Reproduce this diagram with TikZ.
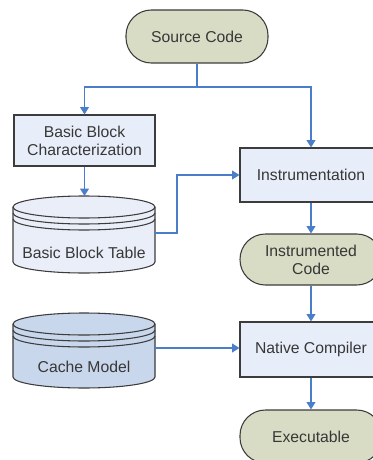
\documentclass[tikz,border=0pt]{standalone}
\usepackage{fontspec}
\setmainfont{Liberation Sans}
\usetikzlibrary{arrows.meta}
\definecolor{termfill}{RGB}{216,220,196}
\definecolor{boxfill}{RGB}{232,238,249}
\definecolor{cylA}{RGB}{233,238,248}
\definecolor{cylB}{RGB}{201,215,236}
\definecolor{edge}{RGB}{60,60,60}
\definecolor{flow}{RGB}{74,126,200}
\definecolor{txt}{RGB}{55,55,55}
\begin{document}
\begin{tikzpicture}[x=0.75pt,y=-0.75pt,
  every node/.style={font=\fontsize{11.8}{13.4}\selectfont, text=txt, align=center, inner sep=0pt},
  term/.style={draw=edge, line width=0.8pt, fill=termfill, rounded corners=19pt, minimum width=106.5pt},
  procbox/.style={draw=edge, line width=0.8pt, fill=boxfill, minimum width=106.5pt},
  cylnode/.style={minimum width=106.5pt, minimum height=57pt},
  arr/.style={draw=flow, line width=1.1pt, -{Triangle[length=5.5pt,width=6.5pt]}},
  rim/.style={draw=edge, line width=0.8pt}]
\fill[white] (0,0) rectangle (373,460);
\clip (0,0) rectangle (373,460);
\useasboundingbox (0,0) rectangle (373,460);

% terminals and boxes
\node[term, minimum height=39.75pt] (src) at (197,36.5) {Source Code};
\node[procbox, minimum width=105.75pt, minimum height=38.25pt] (bbc) at (84.5,140.5) {Basic Block\\Characterization};
\node[procbox, minimum height=40.5pt] (instr) at (311,175) {Instrumentation};
\node[term, minimum height=38.25pt] (icode) at (311,259.5) {Instrumented\\Code};
\node[procbox, minimum height=41.25pt] (nc) at (311,349.5) {Native Compiler};
\node[term, minimum height=39.75pt] (exe) at (311,436.5) {Executable};

% cylinder: Basic Block Table
\filldraw[rim, fill=cylA] (13,207) -- (13,262)
  arc[start angle=180, end angle=360, x radius=53.25pt, y radius=8.25pt]
  -- (155,207) arc[start angle=0, end angle=180, x radius=53.25pt, y radius=8.25pt] -- cycle;
\draw[rim] (13,207) arc[start angle=180, end angle=360, x radius=53.25pt, y radius=8.25pt];
\draw[rim] (13,213) arc[start angle=180, end angle=360, x radius=53.25pt, y radius=8.25pt];
\draw[rim] (13,219) arc[start angle=180, end angle=360, x radius=53.25pt, y radius=8.25pt];
\node[cylnode] (bbt) at (84,233) {};
\node (bbtl) at (84,253) {Basic Block Table};

% cylinder: Cache Model
\filldraw[rim, fill=cylB] (13,324) -- (13,377)
  arc[start angle=180, end angle=360, x radius=53.25pt, y radius=8.25pt]
  -- (155,324) arc[start angle=0, end angle=180, x radius=53.25pt, y radius=8.25pt] -- cycle;
\draw[rim] (13,324) arc[start angle=180, end angle=360, x radius=53.25pt, y radius=8.25pt];
\draw[rim] (13,330) arc[start angle=180, end angle=360, x radius=53.25pt, y radius=8.25pt];
\draw[rim] (13,336) arc[start angle=180, end angle=360, x radius=53.25pt, y radius=8.25pt];
\node[cylnode] (cache) at (84,348) {};
\node (cachel) at (84,367) {Cache Model};

% connectors
\coordinate (split) at (197,87);
\coordinate (bend) at (177,233);
\draw[draw=flow, line width=1.1pt] (src.south) -- (split);
\draw[arr] (split) -| (bbc.north);
\draw[arr] (split) -| (instr.north);
\draw[arr] (bbc.south) -- (bbc.south |- 0,196);
\draw[arr] (bbt.east) -- (bend) |- (instr.west);
\draw[arr] (instr.south) -- (icode.north);
\draw[arr] (icode.south) -- (nc.north);
\draw[arr] (cache.east) -- (cache.east -| nc.west);
\draw[arr] (nc.south) -- (exe.north);
\end{tikzpicture}
\end{document}
